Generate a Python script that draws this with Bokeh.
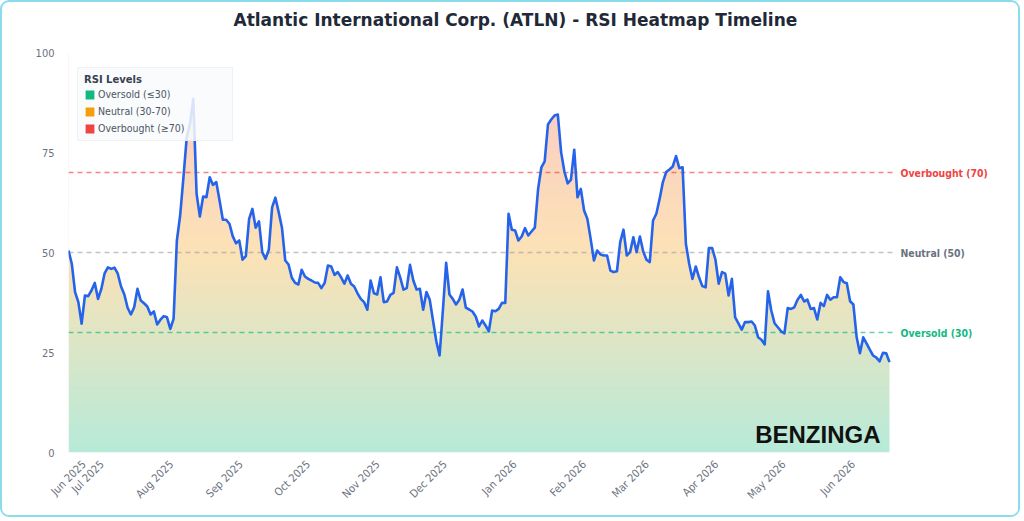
from math import pi

import numpy as np
import pandas as pd
from bokeh.embed import file_html
from bokeh.models import (DatetimeTickFormatter, FixedTicker, Label, Legend,
                          LegendItem, Range1d)
from bokeh.plotting import figure
from bokeh.resources import INLINE

# ---------------------------------------------------------------- data
first_day = "2025-06-16"
last_day = "2026-06-17"

rsi = [
    50.5, 47.2, 40.1, 37.6, 32.2, 39.25, 39.1, 40.5, 42.4, 38.4,
    40.9, 44.8, 46.3, 45.9, 46.2, 44.7, 41.5, 39.5, 36.2, 34.5,
    36.3, 40.9, 38.0, 37.3, 36.5, 34.5, 35.25, 32.0, 33.2, 34.1,
    33.8, 30.9, 33.4, 53.0, 59.25, 68.8, 78.8, 82.2, 88.4, 64.7,
    59.0, 64.0, 63.8, 68.8, 66.9, 67.6, 63.0, 58.2, 58.2, 57.2,
    54.1, 52.3, 53.0, 48.2, 49.1, 58.4, 60.9, 56.2, 57.8, 50.1,
    48.4, 50.7, 61.3, 63.7, 60.1, 56.2, 48.0, 47.0, 43.7, 42.4,
    42.0, 45.7, 44.0, 43.4, 43.0, 42.5, 42.4, 41.1, 42.4, 46.75,
    46.5, 44.4, 45.1, 43.8,
    42.2, 44.25, 42.2, 41.5, 39.8, 38.4, 37.6, 35.7, 43.0, 39.8,
    39.5, 43.8, 37.6, 37.75, 39.4, 39.9, 46.3, 43.8, 40.7, 41.1,
    46.9, 43.0, 40.75, 40.9, 35.7, 40.1, 38.2, 33.0, 27.8, 24.25,
    35.5, 47.4, 39.5, 38.4, 37.0, 38.2, 40.75, 36.2, 35.75, 35.25,
    34.0, 31.5, 33.0, 31.75, 30.3, 35.5, 35.3, 35.9, 37.4, 37.4,
    59.7, 55.7, 55.5, 53.0, 54.0, 56.1, 54.25, 55.25, 56.2, 65.9,
    71.3, 72.8, 82.0, 83.25, 84.25, 84.5, 75.1, 70.25, 67.3, 68.2,
    75.7, 63.8, 65.9, 60.5, 58.4, 53.4, 48.0, 50.5, 49.5, 49.25,
    49.25,
    45.5, 45.1, 45.3, 52.6, 55.7, 49.25, 50.1, 53.8, 50.1, 54.0,
    50.25, 48.2, 47.6, 58.0, 59.7, 63.4, 67.6, 70.1, 70.75, 71.5,
    74.1, 71.1, 71.3, 52.2, 47.2, 43.4, 46.5, 43.8, 41.6, 41.3,
    51.1, 51.1, 48.2, 42.2, 45.1, 44.7, 39.25, 43.4, 33.8, 32.3,
    30.7, 32.6, 32.6, 32.75, 31.75, 28.8, 28.2, 27.0, 40.3, 35.5,
    32.3, 31.3, 30.3, 29.8, 36.1, 35.9, 36.3, 38.2, 39.4, 37.75,
    38.2, 35.9, 36.1, 33.25, 37.4, 36.6, 39.4, 38.2, 38.8, 38.8,
    43.8, 42.6, 42.3, 37.8, 37.0, 28.8, 24.8, 28.8, 27.3, 25.7,
    24.25, 23.7, 22.8, 24.9, 24.8, 22.6,
]

tick_dates = [
    "2025-06-23", "2025-07-01", "2025-08-01", "2025-09-01", "2025-10-01",
    "2025-11-01", "2025-12-01", "2026-01-01", "2026-02-01", "2026-03-01",
    "2026-04-01", "2026-05-01", "2026-06-01",
]
y_ticks = [0, 25, 50, 75, 100]

level_values = [70, 50, 30]
level_texts = ["Overbought (70)", "Neutral (50)", "Oversold (30)"]
level_text_colors = ["#ef4444", "#6b7280", "#10b981"]
level_line_colors = ["#ef4444", "#9ca3af", "#10b981"]

legend_labels = ["Oversold (\u226430)", "Neutral (30-70)", "Overbought (\u226570)"]
legend_colors = ["#10b981", "#f59e0b", "#ef4444"]

title_text = "Atlantic International Corp. (ATLN) - RSI Heatmap Timeline"

FONT = "DejaVu Sans Condensed"
FONT_WIDE = "DejaVu Sans"

# ---------------------------------------------------------------- layout
# The frame runs to the top of the canvas so the heading can sit inside it;
# the RSI scale (0-100) occupies the lower PLOT_H pixels.
W, H = 1020, 517
BORDER_L, BORDER_R, BORDER_B = 66, 12, 67
FRAME_W = W - BORDER_L - BORDER_R
FRAME_H = H - BORDER_B
PLOT_H = 400
SERIES_W = 821          # pixels covered by the RSI series inside the frame

dates = pd.date_range(first_day, last_day, periods=len(rsi))
series_span = dates[-1] - dates[0]
x_end = dates[0] + series_span * (FRAME_W / SERIES_W)
y_top = 100 * FRAME_H / PLOT_H

p = figure(
    width=W, height=H,
    x_axis_type="datetime",
    x_range=Range1d(dates[0], x_end),
    y_range=Range1d(0, y_top),
    output_backend="svg", toolbar_location=None,
    min_border_left=BORDER_L, min_border_right=BORDER_R,
    min_border_top=0, min_border_bottom=BORDER_B,
    background_fill_color="white", border_fill_color="white",
)
p.outline_line_color = None
p.grid.grid_line_color = None
p.styles = {"border": "2px solid #8adcec", "border-radius": "9px",
            "overflow": "hidden"}

# heading
p.add_layout(Label(x=165, x_units="screen", y=FRAME_H - 17, y_units="screen",
                   text=title_text, text_baseline="middle",
                   text_font=FONT_WIDE, text_font_style="bold",
                   text_font_size="17px", text_color="#1f2937"))

# vertical colour gradient (green -> amber -> red) behind the RSI curve
def blend(c1, c2, t):
    return [c1[i] + (c2[i] - c1[i]) * t for i in range(3)]

green, amber, red = (16, 185, 129), (245, 158, 11), (239, 68, 68)
rows = 201
grad = np.zeros((rows, 2), dtype=np.uint32)
view = grad.view(dtype=np.uint8).reshape((rows, 2, 4))
for i, v in enumerate(np.linspace(0, 100, rows)):
    if v <= 50:
        c = blend(green, amber, v / 50)
    else:
        c = blend(amber, red, (v - 50) / 50)
    a = 0.3
    view[i, :, 0] = int(round(255 - a * (255 - c[0])))
    view[i, :, 1] = int(round(255 - a * (255 - c[1])))
    view[i, :, 2] = int(round(255 - a * (255 - c[2])))
    view[i, :, 3] = 255

x0 = dates[0].value / 1e6
span_ms = series_span.total_seconds() * 1000
p.image_rgba(image=[grad], x=x0, y=0, dw=span_ms, dh=100)

# white above the curve so the gradient only fills below it; the cover is
# carried a little past the last point so no sliver of gradient shows there
line_stop = dates[-1] + pd.Timedelta(days=1.5)
mask_x = list(dates) + [line_stop]
mask_y = list(rsi) + [rsi[-1]]
p.varea(x=mask_x, y1=mask_y, y2=y_top, fill_color="white", fill_alpha=1)

# reference levels, drawn across the series' extent
for lv, lc in zip(level_values, level_line_colors):
    p.segment(x0=dates[0], y0=lv, x1=line_stop, y1=lv, line_color=lc,
              line_dash="5 4", line_width=1.4, line_alpha=0.65)

p.line(dates, rsi, line_color="#2563eb", line_width=2.6, line_join="round")

for lv, txt, tc in zip(level_values, level_texts, level_text_colors):
    p.add_layout(Label(x=832, x_units="screen", y=lv, text=txt,
                       text_baseline="middle", text_font=FONT,
                       text_font_style="bold", text_font_size="10.4px",
                       text_color=tc))

# axes
p.xaxis.ticker = FixedTicker(ticks=[pd.Timestamp(t).value / 1e6 for t in tick_dates])
fmt = "%b %Y"
p.xaxis.formatter = DatetimeTickFormatter(
    milliseconds=fmt, seconds=fmt, minsec=fmt, minutes=fmt, hourmin=fmt,
    hours=fmt, days=fmt, months=fmt, years=fmt)
p.xaxis.major_label_orientation = pi / 4
p.yaxis.ticker = FixedTicker(ticks=y_ticks)
for ax in (p.xaxis, p.yaxis):
    ax.axis_line_color = None
    ax.major_tick_line_color = None
    ax.minor_tick_line_color = None
    ax.major_label_text_color = "#6b7280"
    ax.major_label_text_font = FONT
    ax.major_label_text_font_size = "11px"
p.yaxis.major_label_standoff = 8
p.xaxis.major_label_standoff = 4

# legend swatches (no visible marks of their own)
swatches = [p.quad(left=[np.nan], right=[np.nan], top=[np.nan], bottom=[np.nan],
                   fill_color=c, line_color=None) for c in legend_colors]
legend = Legend(
    items=[LegendItem(label=l, renderers=[r]) for l, r in zip(legend_labels, swatches)],
    title="RSI Levels", location=(9, 311),
    title_text_font=FONT_WIDE, title_text_font_style="bold",
    title_text_font_size="10px", title_text_color="#374151",
    label_text_font=FONT, label_text_font_size="10.5px",
    label_text_color="#4b5563",
    glyph_width=11, glyph_height=11, label_height=11, label_width=128,
    label_standoff=3, spacing=5, padding=6, margin=0, title_standoff=3,
    background_fill_color="#f9fafb", background_fill_alpha=0.85,
    border_line_color="#e5e7eb", border_line_width=1,
)
p.add_layout(legend)

# watermark
p.add_layout(Label(x=812, x_units="screen", y=5, y_units="screen",
                   text="BENZINGA", text_align="right", text_baseline="bottom",
                   text_font="Liberation Sans", text_font_style="bold",
                   text_font_size="24px", text_color="#111111"))

open("out.html", "w").write(file_html(p, INLINE))
